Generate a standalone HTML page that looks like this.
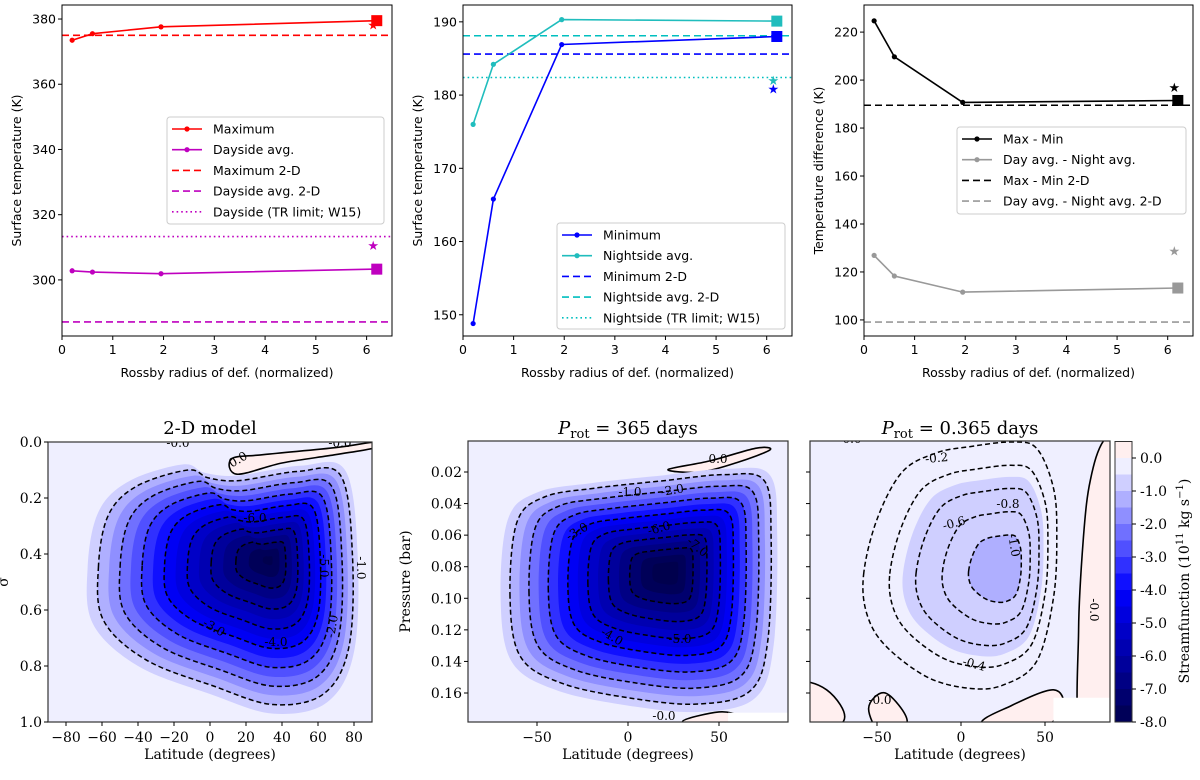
<!DOCTYPE html>
<html><head><meta charset="utf-8">
<style>
html,body{margin:0;padding:0;background:#fff;}
svg text{font-family:"DejaVu Sans","Liberation Sans",sans-serif;}
.serif{font-family:"DejaVu Serif","Liberation Serif",serif !important;}
</style></head>
<body>
<svg id="fig" xmlns="http://www.w3.org/2000/svg" width="1200" height="775" viewBox="0 0 1200 775">
<rect width="1200" height="775" fill="#fff"/>
</svg>
<script>
// ---------- top row data ----------
const rossbyX = [0.2, 0.6, 1.95, 6.2];
const maxT = [373.5, 375.5, 377.6, 379.5];
const dayAvg = [302.8, 302.4, 301.9, 303.3];
const maxStar = 378.2, dayStar = 310.6;
const max2D = 375.0, day2D = 287.1, dayTR = 313.3;
const minT = [148.8, 165.8, 186.9, 188.0];
const nightAvg = [176.0, 184.2, 190.3, 190.1];
const minStar = 180.8, nightStar = 182.0;
const min2D = 185.6, night2D = 188.1, nightTR = 182.4;
const maxMin = [224.7, 209.7, 190.7, 191.5];
const dayNight = [126.9, 118.3, 111.6, 113.3];
const maxMinStar = 197.0, dayNightStar = 128.8;
const maxMin2D = 189.5, dayNight2D = 99.1;
const starX = 6.13;
const xTicks = [0,1,2,3,4,5,6];
const yTicks1 = [300,320,340,360,380];
const yTicks2 = [150,160,170,180,190];
const yTicks3 = [100,120,140,160,180,200,220];
// ---------- bottom row data ----------
const cbLevels = [0.5,0,-0.5,-1,-1.5,-2,-2.5,-3,-3.5,-4,-4.5,-5,-5.5,-6,-6.5,-7,-7.5,-8];
const cbTicks = [0,-1,-2,-3,-4,-5,-6,-7,-8];
const peak2D = -8.2, peak365 = -8.6, peak0365 = -1.3;
const lines2D = [-1,-2,-3,-4,-5,-6,-7];
const lines365 = [-1,-2,-3,-4,-5,-6,-7];
const lines0365 = [-0.2,-0.4,-0.6,-0.8,-1.0];
const shape2D = [[-68,0.45],[-62,0.25],[-45,0.14],[-15,0.08],[-3,0.11],[15,0.12],[50,0.085],[75,0.1],[82,0.4],[80,0.75],[65,0.93],[35,0.97],[0,0.9],[-40,0.8],[-65,0.65]];
const shape365 = [[-70,0.1],[-66,0.05],[-50,0.033],[-20,0.027],[20,0.022],[55,0.018],[78,0.022],[82,0.06],[80,0.13],[70,0.163],[40,0.172],[0,0.168],[-40,0.158],[-64,0.14]];
const shape0365 = [[-58,0.085],[-50,0.05],[-35,0.02],[-15,0.008],[5,0.004],[30,0.001],[45,0.005],[55,0.03],[57,0.06],[55,0.10],[45,0.14],[25,0.155],[5,0.157],[-20,0.15],[-45,0.13],[-56,0.11]];
const center2D = [33,0.42], center365 = [22,0.083], center0365 = [28,0.082];
const latTicks2D = [-80,-60,-40,-20,0,20,40,60,80];
const latTicks = [-50,0,50];
const sigTicks = [0,0.2,0.4,0.6,0.8,1.0];
const pTicks = [0.02,0.04,0.06,0.08,0.10,0.12,0.14,0.16];

const NS = 'http://www.w3.org/2000/svg';
const svg = document.getElementById('fig');
function el(tag, attrs, parent, txt){
  const e = document.createElementNS(NS, tag);
  for (const k in attrs) e.setAttribute(k, attrs[k]);
  if (txt !== undefined) e.textContent = txt;
  (parent||svg).appendChild(e);
  return e;
}
function linear(d0,d1,r0,r1){ return v => r0 + (v-d0)*(r1-r0)/(d1-d0); }

// ---------- line chart ----------
function lineChart(o){
  const g = el('g', {});
  
  
  const X = linear(0, 6.5, o.x0, o.x1), Y = linear(o.yMin, o.yMax, o.y1, o.y0);
  const cid = o.name + '-clip';
  const cp = el('clipPath', {id: cid}, g); el('rect', {x:o.x0, y:o.y0, width:o.x1-o.x0, height:o.y1-o.y0}, cp);
  const pg = el('g', {'clip-path':'url(#'+cid+')'}, g);
  o.hlines.forEach(h => {
    const l = el('line', {x1:o.x0, x2:o.x1, y1:Y(h.v), y2:Y(h.v), stroke:h.c, 'stroke-width':1.6, 'stroke-dasharray':h.dash}, pg);
    
    
  });
  o.series.forEach(s => {
    const pts = rossbyX.map((x,i) => X(x).toFixed(1)+','+Y(s.v[i]).toFixed(1)).join(' ');
    const pl = el('polyline', {points:pts, fill:'none', stroke:s.c, 'stroke-width':1.6}, pg);
    
    
    rossbyX.forEach((x,i) => {
      if (i < rossbyX.length-1) {
        const c = el('circle', {cx:X(x), cy:Y(s.v[i]), r:2.6, fill:s.c}, pg);
        
        
      } else {
        const r = el('rect', {x:X(x)-5.5, y:Y(s.v[i])-5.5, width:11, height:11, fill:s.c}, pg);
        
        
      }
    });
    const st = el('text', {x:X(starX), y:Y(s.star)+4.5, 'font-size':13, fill:s.c, 'text-anchor':'middle'}, pg, '★');
    
    
  });
  el('rect', {x:o.x0, y:o.y0, width:o.x1-o.x0, height:o.y1-o.y0, fill:'none', stroke:'#000', 'stroke-width':1}, g);
  xTicks.forEach(t => {
    el('line', {x1:X(t), x2:X(t), y1:o.y1, y2:o.y1+4, stroke:'#000'}, g);
    const tx = el('text', {x:X(t), y:o.y1+18, 'font-size':12.5, 'text-anchor':'middle'}, g, t);
    
    
  });
  o.yTicks.forEach(t => {
    el('line', {x1:o.x0-4, x2:o.x0, y1:Y(t), y2:Y(t), stroke:'#000'}, g);
    const tx = el('text', {x:o.x0-6, y:Y(t)+4.5, 'font-size':12.5, 'text-anchor':'end'}, g, t);
    
    
  });
  const xl = el('text', {x:(o.x0+o.x1)/2, y:377, 'font-size':12.5, 'text-anchor':'middle'}, g, 'Rossby radius of def. (normalized)');
  
  
  const yl = el('text', {x:0, y:0, 'font-size':12.5, 'text-anchor':'middle', transform:'translate('+(o.x0-41)+','+((o.y0+o.y1)/2)+') rotate(-90)'}, g, o.ylabel);
  
  
  const lg = el('g', {}, g);
  
  
  el('rect', {x:o.lg[0], y:o.lg[1], width:o.lg[2], height:o.lg[3], rx:3, fill:'#fff', 'fill-opacity':0.85, stroke:'#ccc'}, lg);
  o.legend.forEach((e,i) => {
    const y = o.lg[1] + 12 + i*20.7;
    const sx = o.lg[0] + 5;
    const it = el('g', {}, lg);
    
    
    el('line', {x1:sx, x2:sx+30, y1:y, y2:y, stroke:e.c, 'stroke-width':1.6, 'stroke-dasharray':e.dash||'none'}, it);
    if (e.m) el('circle', {cx:sx+15, cy:y, r:2.6, fill:e.c}, it);
    el('text', {x:sx+41, y:y+4.5, 'font-size':12.5}, it, e.t);
  });
}

lineChart({name:'max-dayside-panel', x0:62, x1:392, y0:5, y1:336, yMin:282.8, yMax:384.3, yTicks:yTicks1, ylabel:'Surface temperature (K)',
  hlines:[{v:max2D,c:'#ff0000',dash:'7,4',n:'maximum-2d-line'},{v:day2D,c:'#bf00bf',dash:'7,4',n:'dayside-2d-line'},{v:dayTR,c:'#bf00bf',dash:'1.6,3',n:'dayside-tr-limit-line'}],
  series:[{v:maxT,c:'#ff0000',n:'maximum',star:maxStar},{v:dayAvg,c:'#bf00bf',n:'dayside-avg',star:dayStar}],
  lg:[167,117,217,107],
  legend:[{t:'Maximum',c:'#ff0000',m:1},{t:'Dayside avg.',c:'#bf00bf',m:1},{t:'Maximum 2-D',c:'#ff0000',dash:'7,4'},{t:'Dayside avg. 2-D',c:'#bf00bf',dash:'7,4'},{t:'Dayside (TR limit; W15)',c:'#bf00bf',dash:'1.6,3'}]});

lineChart({name:'min-nightside-panel', x0:463, x1:792, y0:5, y1:336, yMin:147.1, yMax:192.3, yTicks:yTicks2, ylabel:'Surface temperature (K)',
  hlines:[{v:min2D,c:'#0000ff',dash:'7,4',n:'minimum-2d-line'},{v:night2D,c:'#00bfbf',dash:'7,4',n:'nightside-2d-line'},{v:nightTR,c:'#00bfbf',dash:'1.6,3',n:'nightside-tr-limit-line'}],
  series:[{v:minT,c:'#0000ff',n:'minimum',star:minStar},{v:nightAvg,c:'#20bdbd',n:'nightside-avg',star:nightStar}],
  lg:[557,223,228,106],
  legend:[{t:'Minimum',c:'#0000ff',m:1},{t:'Nightside avg.',c:'#20bdbd',m:1},{t:'Minimum 2-D',c:'#0000ff',dash:'7,4'},{t:'Nightside avg. 2-D',c:'#00bfbf',dash:'7,4'},{t:'Nightside (TR limit; W15)',c:'#00bfbf',dash:'1.6,3'}]});

lineChart({name:'temperature-difference-panel', x0:864, x1:1193, y0:5, y1:336, yMin:93.3, yMax:231.3, yTicks:yTicks3, ylabel:'Temperature difference (K)',
  hlines:[{v:maxMin2D,c:'#000',dash:'7,4',n:'max-min-2d-line'},{v:dayNight2D,c:'#999',dash:'7,4',n:'day-night-2d-line'}],
  series:[{v:maxMin,c:'#000',n:'max-min',star:maxMinStar},{v:dayNight,c:'#999',n:'day-night',star:dayNightStar}],
  lg:[957,127,229,87],
  legend:[{t:'Max - Min',c:'#000',m:1},{t:'Day avg. - Night avg.',c:'#999',m:1},{t:'Max - Min 2-D',c:'#000',dash:'7,4'},{t:'Day avg. - Night avg. 2-D',c:'#999',dash:'7,4'}]});

// ---------- contour panels ----------
function seismic(v){
  const t = Math.max(0, Math.min(1, (v+8)/16));
  let r,g,b;
  if (t < 0.25){ r=0; g=0; b=0.3+0.7*t/0.25; }
  else if (t < 0.5){ const s=(t-0.25)/0.25; r=s; g=s; b=1; }
  else if (t < 0.75){ const s=(t-0.5)/0.25; r=1; g=1-s; b=1-s; }
  else { r=1-0.5*(t-0.75)/0.25; g=0; b=0; }
  return 'rgb('+Math.round(r*255)+','+Math.round(g*255)+','+Math.round(b*255)+')';
}
function smoothPath(pts){
  const n = pts.length; let d = 'M'+pts[0][0].toFixed(1)+','+pts[0][1].toFixed(1);
  for (let i=0;i<n;i++){
    const p0=pts[(i-1+n)%n], p1=pts[i], p2=pts[(i+1)%n], p3=pts[(i+2)%n];
    const c1=[p1[0]+(p2[0]-p0[0])/6, p1[1]+(p2[1]-p0[1])/6];
    const c2=[p2[0]-(p3[0]-p1[0])/6, p2[1]-(p3[1]-p1[1])/6];
    d += 'C'+c1[0].toFixed(1)+','+c1[1].toFixed(1)+' '+c2[0].toFixed(1)+','+c2[1].toFixed(1)+' '+p2[0].toFixed(1)+','+p2[1].toFixed(1);
  }
  return d+'Z';
}
function contourPanel(o){
  const g = el('g', {});
  
  
  const cid = o.name+'-clip';
  const cp = el('clipPath', {id:cid}, g); el('rect', {x:o.x0, y:o.y0, width:o.x1-o.x0, height:o.y1-o.y0}, cp);
  const pg = el('g', {'clip-path':'url(#'+cid+')'}, g);
  el('rect', {x:o.x0, y:o.y0, width:o.x1-o.x0, height:o.y1-o.y0, fill:seismic(-0.25)}, pg);
  (o.pink||[]).forEach(p => {
    const pp = el('path', {d:smoothPath(p.map(q=>[o.X(q[0]),o.Y(q[1])])), fill:seismic(0.25), stroke:'#000', 'stroke-width':1.6}, pg);
    
    
  });
  const rOf = L => Math.pow(1 - L/o.A, 1/o.q);
  const rRef = rOf(o.ref);
  const cx = o.X(o.center[0]), cy = o.Y(o.center[1]);
  const pathAt = L => {
    const s = rOf(L)/rRef;
    return smoothPath(o.shape.map(p => [cx + s*(o.X(p[0])-cx), cy + s*(o.Y(p[1])-cy)]));
  };
  cbLevels.forEach(b => {
    if (b >= 0 || b <= o.A) return;
    const f = el('path', {d:pathAt(b), fill:seismic(b-0.25)}, pg);
    
    
  });
  o.lines.forEach(L => {
    if (L <= o.A) return;
    const c = el('path', {d:pathAt(L), fill:'none', stroke:'#000', 'stroke-width':1.5, 'stroke-dasharray':'5,3'}, pg);
    
    
  });
  (o.white||[]).forEach(w => el('rect', {x:o.X(w[0]), y:o.Y(w[1]), width:o.X(w[2])-o.X(w[0]), height:o.Y(w[3])-o.Y(w[1]), fill:'#fff'}, pg));
  (o.labels||[]).forEach(l => {
    const t = el('text', {x:l[0], y:l[1], 'font-size':12, 'text-anchor':'middle', class:'serif', transform:'rotate('+(l[3]||0)+' '+l[0]+' '+l[1]+')'}, pg, l[2]);
    
    
  });
  el('rect', {x:o.x0, y:o.y0, width:o.x1-o.x0, height:o.y1-o.y0, fill:'none', stroke:'#333', 'stroke-width':1.2}, g);
  o.xt.forEach(t => {
    el('line', {x1:o.X(t), x2:o.X(t), y1:o.y1, y2:o.y1+4, stroke:'#000'}, g);
    const tx = el('text', {x:o.X(t), y:o.y1+20, 'font-size':14, 'text-anchor':'middle', class:'serif'}, g, t < 0 ? '\u2212'+(-t) : String(t));
    
    
  });
  o.yt.forEach(t => {
    el('line', {x1:o.x0-4, x2:o.x0, y1:o.Y(t), y2:o.Y(t), stroke:'#000'}, g);
    if (o.ylabel) {
      const tx = el('text', {x:o.x0-6, y:o.Y(t)+5, 'font-size':14, 'text-anchor':'end', class:'serif'}, g, t.toFixed(o.ydp));
      
      
    }
  });
  const xl = el('text', {x:(o.x0+o.x1)/2, y:759, 'font-size':14, 'text-anchor':'middle', class:'serif'}, g, 'Latitude (degrees)');
  
  
  if (o.ylabel) {
    const yl = el('text', {x:0, y:0, 'font-size':14, 'text-anchor':'middle', class:'serif', transform:'translate('+o.ylx+','+((o.y0+o.y1)/2)+') rotate(-90)'}, g, o.ylabel);
    
    
  }
  const tt = el('text', {x:(o.x0+o.x1)/2, y:434, 'font-size':18, 'text-anchor':'middle', class:'serif'}, g);
  
  
  tt.innerHTML = o.title;
}

contourPanel({name:'2d-model-streamfunction', x0:48, x1:372, y0:442, y1:722,
  X:linear(-90,90,48,372), Y:linear(0,1,442,722), A:peak2D, q:1.1, ref:-0.5, center:center2D, shape:shape2D, lines:lines2D,
  pink:[[[15,0.115],[40,0.075],[70,0.045],[92,0.02],[92,0.0],[70,0.02],[30,0.045],[12,0.06]]],
  xt:latTicks2D, yt:sigTicks, ydp:1, ylabel:'σ', ylx:8, title:'2-D model',
  labels:[[255,522,'-6.0',0],[320,566,'-5.0',90],[357,568,'-1.0',90],[212,631,'-3.0',30],[276,646,'-4.0',0],[336,627,'-2.0',-80],[240,463,'0.0',-30],[178,447,'-0.0',0],[340,447,'-0.0',0]]});

contourPanel({name:'prot-365-streamfunction', x0:468, x1:788, y0:441, y1:722,
  X:linear(0,50,628,719), Y:linear(0.02,0.16,472,693), A:peak365, q:1.1, ref:-0.5, center:center365, shape:shape365, lines:lines365,
  pink:[[[22,0.0185],[45,0.013],[70,0.005],[78,0.006],[60,0.014],[40,0.02]],[[30,0.178],[50,0.172],[60,0.175],[50,0.182]]],
  white:[[55,0.1725,95,0.19]],
  xt:latTicks, yt:pTicks, ydp:2, ylabel:'Pressure (bar)', ylx:410, title:'<tspan font-style="italic">P</tspan><tspan font-size="13" dy="4">rot</tspan><tspan dy="-4"> = 365 days</tspan>',
  labels:[[718,463,'0.0',0],[630,496,'-1.0',0],[673,494,'-2.0',-10],[579,535,'-3.0',-30],[660,532,'-6.0',-15],[695,550,'-7.0',40],[610,640,'-4.0',30],[680,643,'-5.0',0],[664,720,'-0.0',0],[505,441,'-0.0',0]]});

contourPanel({name:'prot-0365-streamfunction', x0:810, x1:1110, y0:441, y1:722,
  X:linear(0,50,961,1045), Y:linear(0.02,0.16,472,693), A:peak0365, q:1.0, ref:-0.2, center:center0365, shape:shape0365, lines:lines0365,
  pink:[[[72,0.19],[70,0.12],[73,0.06],[77,0.025],[85,0.0],[100,-0.01],[100,0.19]],[[-100,0.155],[-80,0.158],[-70,0.178],[-100,0.19]],[[-55,0.17],[-45,0.16],[-32,0.178],[-45,0.19]],[[12,0.18],[30,0.168],[55,0.158],[60,0.17],[40,0.19]]],
  white:[[55,0.163,95,0.19]],
  xt:latTicks, yt:pTicks, ydp:2, ylabel:null, title:'<tspan font-style="italic">P</tspan><tspan font-size="13" dy="4">rot</tspan><tspan dy="-4"> = 0.365 days</tspan>',
  labels:[[937,462,'-0.2',-5],[955,527,'-0.6',-15],[1008,508,'-0.8',0],[1010,546,'-1.0',80],[973,668,'-0.4',15],[1090,610,'-0.0',90],[880,704,'-0.0',0],[850,443,'-0.0',0]]});

// ---------- colorbar ----------
(function(){
  const g = el('g', {});
  
  
  const Yc = linear(0, -8, 458, 722);
  for (let i=0;i<cbLevels.length-1;i++){
    const hi = cbLevels[i], lo = cbLevels[i+1];
    const r = el('rect', {x:1115, y:Yc(hi), width:17, height:Yc(lo)-Yc(hi)+0.5, fill:seismic((hi+lo)/2)}, g);
    
    
  }
  el('rect', {x:1115, y:Yc(0.5), width:17, height:Yc(-8)-Yc(0.5), fill:'none', stroke:'#333', 'stroke-width':1}, g);
  cbTicks.forEach(t => {
    el('line', {x1:1132, x2:1136, y1:Yc(t), y2:Yc(t), stroke:'#000'}, g);
    const tx = el('text', {x:1140, y:Yc(t)+5, 'font-size':14, class:'serif'}, g, t.toFixed(1));
    
    
  });
  const lb = el('text', {x:0, y:0, 'font-size':14, 'text-anchor':'middle', class:'serif', transform:'translate(1189,581) rotate(-90)'}, g);
  
  
  lb.innerHTML = 'Streamfunction (10<tspan font-size="10" dy="-6">11</tspan><tspan dy="6"> kg s</tspan><tspan font-size="10" dy="-6">−1</tspan><tspan dy="6">)</tspan>';
})();
</script>
</body></html>
